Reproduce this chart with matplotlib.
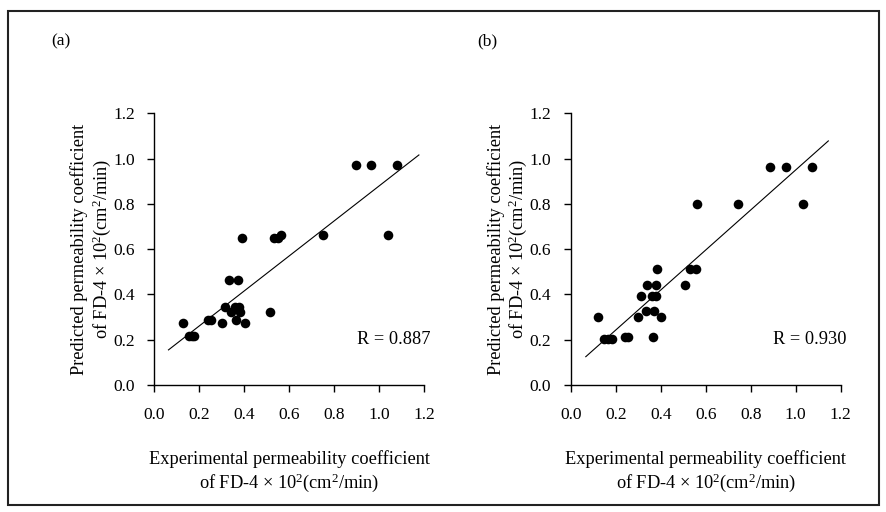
import matplotlib
matplotlib.use("Agg")
import matplotlib.pyplot as plt
from matplotlib.patches import Rectangle

plt.rcParams['font.family'] = ['Liberation Serif', 'DejaVu Serif']
plt.rcParams['mathtext.fontset'] = 'custom'
plt.rcParams['mathtext.rm'] = 'Liberation Serif'
plt.rcParams['mathtext.it'] = 'Liberation Serif:italic'

# Panel (a) data
a_exp = [0.129, 0.156, 0.166, 0.176, 0.238, 0.250, 0.301, 0.314, 0.334, 0.373,
         0.340, 0.359, 0.376, 0.381, 0.363, 0.405, 0.391, 0.514, 0.533, 0.548,
         0.563, 0.748, 0.895, 0.962, 1.080, 1.037]
a_pred = [0.272, 0.216, 0.216, 0.216, 0.287, 0.287, 0.272, 0.346, 0.464, 0.464,
          0.321, 0.346, 0.346, 0.321, 0.287, 0.272, 0.651, 0.321, 0.651, 0.651,
          0.662, 0.662, 0.972, 0.972, 0.972, 0.662]
a_line_x = [0.063, 1.176]
a_line_y = [0.155, 1.016]
a_r = "R = 0.887"

# Panel (b) data
b_exp = [0.123, 0.148, 0.167, 0.185, 0.240, 0.255, 0.298, 0.311, 0.339, 0.379,
         0.333, 0.360, 0.379, 0.372, 0.400, 0.364, 0.385, 0.508, 0.530, 0.556,
         0.560, 0.742, 0.886, 0.956, 1.071, 1.034]
b_pred = [0.302, 0.202, 0.202, 0.202, 0.213, 0.213, 0.302, 0.395, 0.440, 0.440,
          0.328, 0.395, 0.395, 0.328, 0.302, 0.213, 0.512, 0.440, 0.512, 0.512,
          0.801, 0.801, 0.961, 0.961, 0.961, 0.801]
b_line_x = [0.067, 1.145]
b_line_y = [0.125, 1.078]
b_r = "R = 0.930"

ticks = [0.0, 0.2, 0.4, 0.6, 0.8, 1.0, 1.2]
tick_labels = ["0.0", "0.2", "0.4", "0.6", "0.8", "1.0", "1.2"]
xlabel = ["Experimental permeability coefficient", "of FD-4 \u00d7 10$^2$(cm$^2$/min)"]
ylabel = ["Predicted permeability coefficient", "of FD-4 \u00d7 10$^2$(cm$^2$/min)"]
panel_tags = ["(a)", "(b)"]

W, H = 887, 512
fig = plt.figure(figsize=(W / 100, H / 100), dpi=100)

# outer frame
fig.patches.append(Rectangle((8 / W, 1 - 505 / H), (879 - 8) / W, (505 - 11) / H,
                             transform=fig.transFigure, fill=False,
                             edgecolor='#222222', linewidth=1.5))

panels = [
    (154.3, a_exp, a_pred, a_line_x, a_line_y, a_r, panel_tags[0], 61),
    (570.7, b_exp, b_pred, b_line_x, b_line_y, b_r, panel_tags[1], 487),
]
fs = 12.5
lfs = 13.2
for left_px, xs, ys, lx, ly, rtxt, tag, tag_x in panels:
    ax = fig.add_axes([left_px / W, 1 - 385 / H, 270 / W, (385 - 113.3) / H])
    ax.set_xlim(0, 1.2)
    ax.set_ylim(0, 1.2)
    ax.scatter(xs, ys, s=48, color='black', zorder=3, linewidths=0)
    ax.plot(lx, ly, color='black', linewidth=0.8)
    for side in ['top', 'right']:
        ax.spines[side].set_visible(False)
    for side in ['left', 'bottom']:
        ax.spines[side].set_linewidth(1.0)
    ax.set_xticks(ticks)
    ax.set_xticklabels(tick_labels)
    ax.set_yticks(ticks)
    ax.set_yticklabels(tick_labels)
    ax.tick_params(direction='out', length=5, width=1.0, labelsize=fs)
    ax.tick_params(axis='x', pad=11)
    ax.tick_params(axis='y', pad=9)
    ax.text(0.9, 0.2, rtxt, transform=ax.transData, fontsize=lfs,
            ha='left', va='center')
    cx = (left_px + 135) / W
    fig.text(cx, 1 - 459 / H, xlabel[0], ha='center', va='center', fontsize=lfs)
    fig.text(cx, 1 - 483 / H, xlabel[1], ha='center', va='center', fontsize=lfs)
    fig.text((left_px - 75) / W, 1 - 249 / H, ylabel[0], ha='center', va='center',
             rotation=90, fontsize=lfs)
    fig.text((left_px - 53) / W, 1 - 249 / H, ylabel[1], ha='center', va='center',
             rotation=90, fontsize=lfs)
    fig.text(tag_x / W, 1 - 41 / H, tag, ha='center', va='center', fontsize=fs)

fig.savefig("out.png", dpi=100)
